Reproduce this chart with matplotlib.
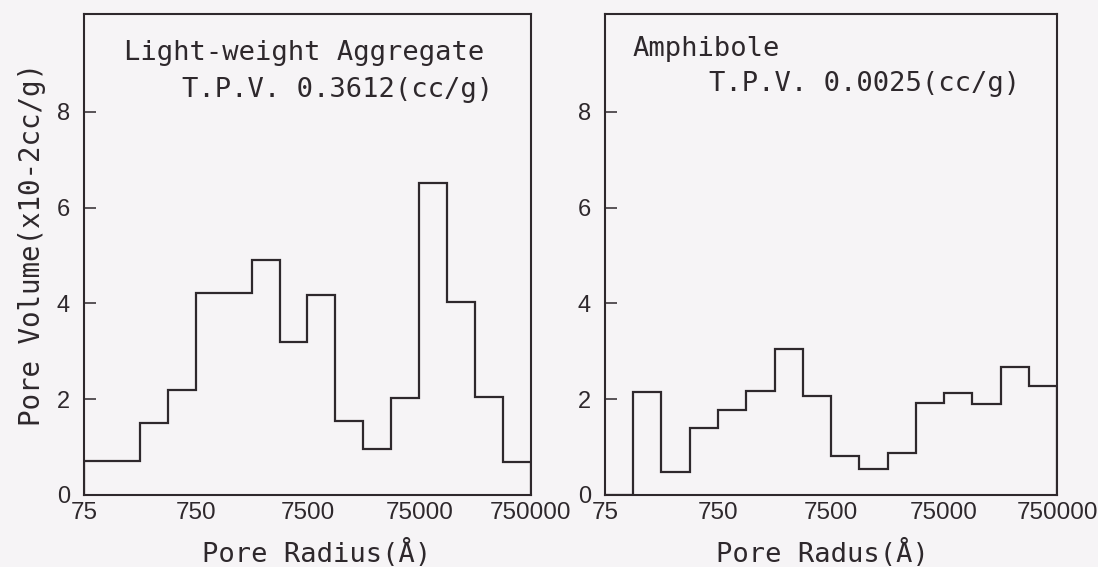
import numpy as np
import matplotlib
matplotlib.use("Agg")
import matplotlib.pyplot as plt

# quarter-decade bin edges of pore radius (Angstrom)
edges = [75, 133, 237, 422, 750, 1334, 2372, 4218, 7500,
         13337, 23717, 42176, 75000, 133370, 237170, 421760, 750000]

# light-weight aggregate: first bin spans two quarters (75 - 237)
lw_edges = [edges[0]] + edges[2:]
lw_vol = [0.7, 1.5, 2.2, 4.22, 4.22, 4.9, 3.2, 4.18, 1.55, 0.95,
          2.02, 6.52, 4.02, 2.05, 0.68]

# amphibole
am_vol = [0.0, 2.15, 0.48, 1.4, 1.78, 2.18, 3.05, 2.07, 0.82, 0.55,
          0.87, 1.93, 2.12, 1.9, 2.67, 2.27]

xticks = [75, 750, 7500, 75000, 750000]
xticklabels = ["75", "750", "7500", "75000", "750000"]
yticks = [0, 2, 4, 6, 8]

ink = "#2e282c"
bg = "#f6f4f6"
mono = ["DejaVu Sans Mono"]
sans = ["Liberation Sans", "DejaVu Sans"]

fig = plt.figure(figsize=(10.98, 5.67), dpi=100, facecolor=bg)
ax1 = fig.add_axes([0.0765, 0.127, 0.4071, 0.8483])
ax2 = fig.add_axes([0.551, 0.127, 0.4117, 0.8483])


def setup(ax):
    ax.set_facecolor(bg)
    ax.set_xscale("log")
    ax.set_xlim(75, 750000)
    ax.set_ylim(0, 10.04)
    ax.minorticks_off()
    ax.set_xticks(xticks)
    ax.set_xticklabels(xticklabels, family=sans, fontsize=17.5, color=ink)
    ax.set_yticks(yticks)
    ax.set_yticklabels([str(v) for v in yticks], family=sans, fontsize=17, color=ink)
    ax.tick_params(axis="x", length=0, pad=5)
    ax.tick_params(axis="y", direction="in", length=8.5, width=1.1, color=ink, pad=10)
    for s in ax.spines.values():
        s.set_color(ink)
        s.set_linewidth(1.5)


setup(ax1)
setup(ax2)

ax1.stairs(lw_vol, lw_edges, color=ink, linewidth=1.6, baseline=0)
ax2.stairs(am_vol, edges, color=ink, linewidth=1.6, baseline=0)

ax1.text(0.0895, 0.904, "Light-weight Aggregate", transform=ax1.transAxes,
         family=mono, fontsize=19.5, color=ink, va="baseline")
ax1.text(0.2186, 0.827, "T.P.V. 0.3612(cc/g)", transform=ax1.transAxes,
         family=mono, fontsize=19.5, color=ink, va="baseline")
ax2.text(0.061, 0.913, "Amphibole", transform=ax2.transAxes,
         family=mono, fontsize=19.5, color=ink, va="baseline")
ax2.text(0.2307, 0.8405, "T.P.V. 0.0025(cc/g)", transform=ax2.transAxes,
         family=mono, fontsize=19.5, color=ink, va="baseline")

fig.text(0.2883, 0.0094, "Pore Radius(Å)", family=mono, fontsize=19.5,
         color=ink, ha="center", va="baseline")
fig.text(0.7486, 0.0094, "Pore Radus(Å)", family=mono, fontsize=19.5,
         color=ink, ha="center", va="baseline")
fig.text(0.0287, 0.568, "Pore Volume(x10-2cc/g)", family=mono, fontsize=19.8,
         color=ink, ha="center", va="center", rotation=90)

fig.savefig("out.png", dpi=100, facecolor=bg)
